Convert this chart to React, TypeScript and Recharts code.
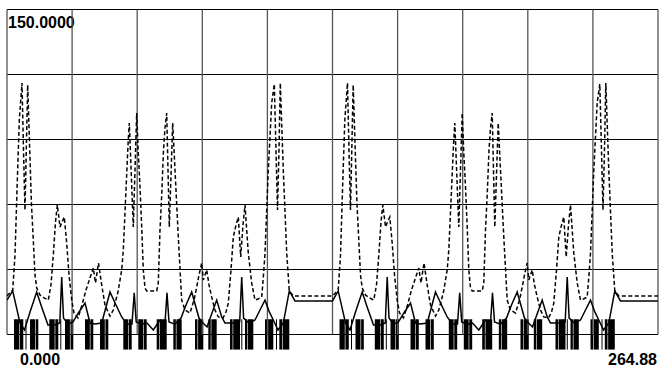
import React from "react";
import { ComposedChart, Line, Area, XAxis, YAxis, ReferenceLine } from "recharts";

const X_MAX = 264.88;
const Y_MIN = -7;
const Y_MAX = 150;

const gridX = [0, 26.488, 52.976, 79.464, 105.952, 132.44, 158.928, 185.416, 211.904, 238.392, 264.88];
const gridY = [0, 30, 60, 90, 120, 150];

const yTopLabel = "150.0000";
const xStartLabel = "0.000";
const xEndLabel = "264.88";

const dashedPoints: [number, number][] = [
  [0, 17.8], [2.32, 20.5], [3.26, 36.7], [4.07, 66.7], [5.01, 99.0], [6.10, 116.1], [6.71, 85.2], [7.32, 57.5],
  [7.85, 85.2], [8.42, 115.2], [9.24, 85.2], [9.97, 59.8], [10.70, 43.6], [11.39, 27.5], [12.08, 21.5], [13.43, 18.2],
  [15.06, 16.9], [16.80, 15.9], [17.90, 22.9], [18.84, 36.7], [19.73, 51.9], [20.47, 59.8], [21.57, 49.6], [22.38, 51.9],
  [23.31, 54.2], [24.29, 42.2], [25.23, 27.5], [26.33, 15.9], [27.26, 9.9], [28.89, 7.6], [30.52, 13.6], [32.14, 20.5],
  [33.77, 26.1], [35.11, 30.7], [36.01, 23.8], [37.23, 33.0], [38.53, 22.9], [39.87, 13.6], [41.91, 8.5], [43.25, 11.3],
  [45.16, 19.6], [46.67, 29.8], [47.32, 39.0], [48.42, 66.7], [49.23, 87.5], [49.76, 97.6], [50.58, 73.6], [51.39, 49.6],
  [52.08, 75.9], [52.77, 102.2], [53.42, 83.8], [54.12, 68.1], [54.81, 49.6], [55.46, 29.8], [56.15, 21.5], [56.84, 20.1],
  [60.91, 20.1], [61.56, 23.8], [62.25, 48.2], [62.95, 64.4], [63.68, 85.2], [64.29, 95.3], [64.98, 102.2], [65.51, 75.9],
  [66.04, 49.6], [66.73, 73.6], [67.42, 97.6], [68.36, 75.9], [69.70, 45.0], [71.08, 15.9], [72.43, 11.3], [74.46, 9.9],
  [76.09, 15.9], [77.19, 21.9], [78.12, 27.5], [79.22, 33.0], [79.87, 25.2], [81.26, 29.8], [82.19, 22.9], [83.29, 17.3],
  [84.63, 11.3], [85.97, 8.1], [87.89, 7.6], [89.11, 10.4], [90.04, 14.5], [91.14, 29.8], [92.08, 45.0], [93.18, 50.5],
  [94.11, 54.2], [95.09, 35.8], [96.02, 50.5], [96.84, 59.8], [97.53, 48.2], [98.18, 37.6], [99.56, 23.8], [100.91, 15.9],
  [102.13, 16.4], [103.63, 17.3], [104.37, 27.5], [104.98, 37.6], [106.32, 75.9], [107.70, 106.9], [108.76, 115.6], [109.45, 85.2],
  [110.06, 57.5], [110.67, 85.2], [111.20, 116.1], [112.42, 75.9], [113.81, 37.6], [114.86, 20.1], [116.49, 17.8], [131.83, 17.8],
  [132.44, 17.8], [134.76, 20.5], [135.70, 36.7], [136.51, 66.7], [137.45, 99.0], [138.54, 116.1], [139.15, 85.2], [139.76, 57.5],
  [140.29, 85.2], [140.86, 115.2], [141.68, 85.2], [142.41, 59.8], [143.14, 43.6], [143.83, 27.5], [144.52, 21.5], [145.87, 18.2],
  [147.50, 16.9], [149.24, 15.9], [150.34, 22.9], [151.28, 36.7], [152.17, 51.9], [152.91, 59.8], [154.01, 49.6], [154.82, 51.9],
  [155.75, 54.2], [156.73, 42.2], [157.67, 27.5], [158.77, 15.9], [159.70, 9.9], [161.33, 7.6], [162.96, 13.6], [164.58, 20.5],
  [166.21, 26.1], [167.55, 30.7], [168.45, 23.8], [169.67, 33.0], [170.97, 22.9], [172.31, 13.6], [174.35, 8.5], [175.69, 11.3],
  [177.60, 19.6], [179.11, 29.8], [179.76, 39.0], [180.86, 66.7], [181.67, 87.5], [182.20, 97.6], [183.02, 73.6], [183.83, 49.6],
  [184.52, 75.9], [185.21, 102.2], [185.86, 83.8], [186.56, 68.1], [187.25, 49.6], [187.90, 29.8], [188.59, 21.5], [189.28, 20.1],
  [193.35, 20.1], [194.00, 23.8], [194.69, 48.2], [195.39, 64.4], [196.12, 85.2], [196.73, 95.3], [197.42, 102.2], [197.95, 75.9],
  [198.48, 49.6], [199.17, 73.6], [199.86, 97.6], [200.80, 75.9], [202.14, 45.0], [203.52, 15.9], [204.87, 11.3], [206.90, 9.9],
  [208.53, 15.9], [209.63, 21.9], [210.56, 27.5], [211.66, 33.0], [212.31, 25.2], [213.70, 29.8], [214.63, 22.9], [215.73, 17.3],
  [217.07, 11.3], [218.41, 8.1], [220.33, 7.6], [221.55, 10.4], [222.48, 14.5], [223.58, 29.8], [224.52, 45.0], [225.62, 50.5],
  [226.55, 54.2], [227.53, 35.8], [228.46, 50.5], [229.28, 59.8], [229.97, 48.2], [230.62, 37.6], [232.00, 23.8], [233.35, 15.9],
  [234.57, 16.4], [236.07, 17.3], [236.81, 27.5], [237.42, 37.6], [238.76, 75.9], [240.14, 106.9], [241.20, 115.6], [241.89, 85.2],
  [242.50, 57.5], [243.11, 85.2], [243.64, 116.1], [244.86, 75.9], [246.25, 37.6], [247.30, 20.1], [248.93, 17.8], [264.88, 17.8],
];

const solidPoints: [number, number][] = [
  [0, 15.9], [2.32, 20.1], [5.29, 5.3], [7.12, 2.1], [9.36, 10.4], [12.08, 19.6], [14.24, 12.2], [16.68, 4.4],
  [19.53, 4.4], [21.48, 5.3], [22.26, 26.5], [22.99, 7.6], [24.82, 4.8], [26.85, 5.8], [29.30, 10.4], [31.74, 14.5],
  [33.77, 5.3], [35.81, 4.8], [38.53, 5.3], [41.91, 19.6], [44.35, 13.6], [46.67, 8.1], [48.83, 4.8], [50.86, 4.8],
  [51.76, 19.2], [52.57, 5.8], [54.93, 4.8], [56.96, 5.3], [59.53, 2.1], [62.25, 6.7], [64.29, 5.3], [65.10, 19.2],
  [65.92, 5.8], [68.36, 4.8], [70.80, 7.6], [72.83, 13.6], [75.15, 19.6], [78.12, 7.6], [79.75, 5.3], [81.38, 3.5],
  [83.41, 9.9], [85.32, 15.9], [87.36, 8.1], [88.70, 5.3], [92.36, 5.3], [94.68, 5.8], [95.50, 26.5], [96.27, 7.6],
  [98.47, 5.3], [100.91, 6.7], [102.94, 11.3], [104.98, 15.9], [106.60, 10.8], [108.35, 6.7], [110.27, 2.1], [112.42, 5.3],
  [114.86, 20.1], [117.18, 15.5], [131.83, 15.5],
  [132.44, 15.5], [134.76, 20.1], [137.73, 5.3], [139.56, 2.1], [141.80, 10.4], [144.52, 19.6], [146.68, 12.2], [149.12, 4.4],
  [151.97, 4.4], [153.92, 5.3], [154.70, 26.5], [155.43, 7.6], [157.26, 4.8], [159.29, 5.8], [161.74, 10.4], [164.18, 14.5],
  [166.21, 5.3], [168.25, 4.8], [170.97, 5.3], [174.35, 19.6], [176.79, 13.6], [179.11, 8.1], [181.27, 4.8], [183.30, 4.8],
  [184.20, 19.2], [185.01, 5.8], [187.37, 4.8], [189.40, 5.3], [191.97, 2.1], [194.69, 6.7], [196.73, 5.3], [197.54, 19.2],
  [198.36, 5.8], [200.80, 4.8], [203.24, 7.6], [205.27, 13.6], [207.59, 19.6], [210.56, 7.6], [212.19, 5.3], [213.82, 3.5],
  [215.85, 9.9], [217.76, 15.9], [219.80, 8.1], [221.14, 5.3], [224.80, 5.3], [227.12, 5.8], [227.94, 26.5], [228.71, 7.6],
  [230.91, 5.3], [233.35, 6.7], [235.38, 11.3], [237.42, 15.9], [239.04, 10.8], [240.79, 6.7], [242.71, 2.1], [244.86, 5.3],
  [247.30, 20.1], [249.62, 15.5], [264.88, 15.5],
];

const PULSE_LOW = -7;
const PULSE_HIGH = 7;
const pulses: [number, number][] = [
  [2.85, 5.0], [5.25, 6.63], [7.53, 7.93], [9.36, 11.4], [11.65, 12.74], [17.21, 19.4], [19.65, 20.87], [21.69, 22.09],
  [23.6, 25.6], [25.85, 26.98], [31.74, 33.7], [33.95, 35.11], [37.84, 39.8], [40.05, 41.22], [47.32, 49.3], [49.55, 50.74],
  [53.42, 55.4], [55.65, 56.84], [60.91, 62.0], [62.25, 64.98], [67.67, 68.7], [68.95, 71.08], [76.49, 77.5], [77.75, 79.87],
  [81.91, 82.9], [83.15, 85.32], [90.73, 91.8], [92.05, 94.8], [95.33, 95.74], [96.84, 97.8], [98.05, 100.22], [104.98, 106.0],
  [106.25, 108.35], [109.45, 109.86], [110.8, 111.9], [112.15, 114.86],
  [135.29, 137.44], [137.69, 139.07], [139.97, 140.37], [141.8, 143.84], [144.09, 145.18], [149.65, 151.84], [152.09, 153.31], [154.13, 154.53],
  [156.04, 158.04], [158.29, 159.42], [164.18, 166.14], [166.39, 167.55], [170.28, 172.24], [172.49, 173.66], [179.76, 181.74], [181.99, 183.18],
  [185.86, 187.84], [188.09, 189.28], [193.35, 194.44], [194.69, 197.42], [200.11, 201.14], [201.39, 203.52], [208.93, 209.94], [210.19, 212.31],
  [214.35, 215.34], [215.59, 217.76], [223.17, 224.24], [224.49, 227.24], [227.77, 228.18], [229.28, 230.24], [230.49, 232.66], [237.42, 238.44],
  [238.69, 240.79], [241.89, 242.3], [243.24, 244.34], [244.59, 247.3],
];

const dashedData = dashedPoints.map(([x, y]) => ({ x, y }));
const solidData = solidPoints.map(([x, y]) => ({ x, y }));
const digitalData: { x: number; v: [number, number] }[] = [{ x: 0, v: [PULSE_HIGH, PULSE_HIGH] }];
pulses.forEach(([s, e]) => {
  digitalData.push({ x: s, v: [PULSE_LOW, PULSE_HIGH] });
  digitalData.push({ x: e, v: [PULSE_HIGH, PULSE_HIGH] });
});
digitalData.push({ x: X_MAX, v: [PULSE_HIGH, PULSE_HIGH] });

const FONT = "'Liberation Sans', Arial, sans-serif";

export default function App() {
  return (
    <div style={{ position: "absolute", left: 0, top: 0, width: 659, height: 371, background: "#fff" }}>
      <ComposedChart
        width={659}
        height={371}
        margin={{ top: 9.5, right: 1, bottom: 21.33, left: 7 }}
      >
        <XAxis dataKey="x" type="number" domain={[0, X_MAX]} allowDataOverflow hide />
        <YAxis type="number" domain={[Y_MIN, Y_MAX]} allowDataOverflow hide />
        {gridY.map((v) => (
          <ReferenceLine key={"h" + v} y={v} stroke="#000" strokeWidth={1} />
        ))}
        {gridX.map((v) => (
          <ReferenceLine
            key={"v" + v}
            segment={[{ x: v, y: 0 }, { x: v, y: Y_MAX }]}
            stroke="#555"
            strokeWidth={1.3}
          />
        ))}
        <Line
          data={dashedData}
          dataKey="y"
          type="linear"
          stroke="#000"
          strokeWidth={1.5}
          strokeDasharray="4 2.5"
          dot={false}
          isAnimationActive={false}
        />
        <Line
          data={solidData}
          dataKey="y"
          type="linear"
          stroke="#000"
          strokeWidth={1.5}
          dot={false}
          isAnimationActive={false}
        />
        <Area
          data={digitalData}
          dataKey="v"
          type="stepAfter"
          stroke="none"
          fill="#000"
          fillOpacity={1}
          isAnimationActive={false}
        />
        <text x={8} y={28} fontFamily={FONT} fontWeight="bold" fontSize={16} fill="#000">
          {yTopLabel}
        </text>
        <text x={20} y={365} fontFamily={FONT} fontWeight="bold" fontSize={16} fill="#000">
          {xStartLabel}
        </text>
        <text x={657} y={365} textAnchor="end" fontFamily={FONT} fontWeight="bold" fontSize={16} fill="#000">
          {xEndLabel}
        </text>
      </ComposedChart>
    </div>
  );
}
